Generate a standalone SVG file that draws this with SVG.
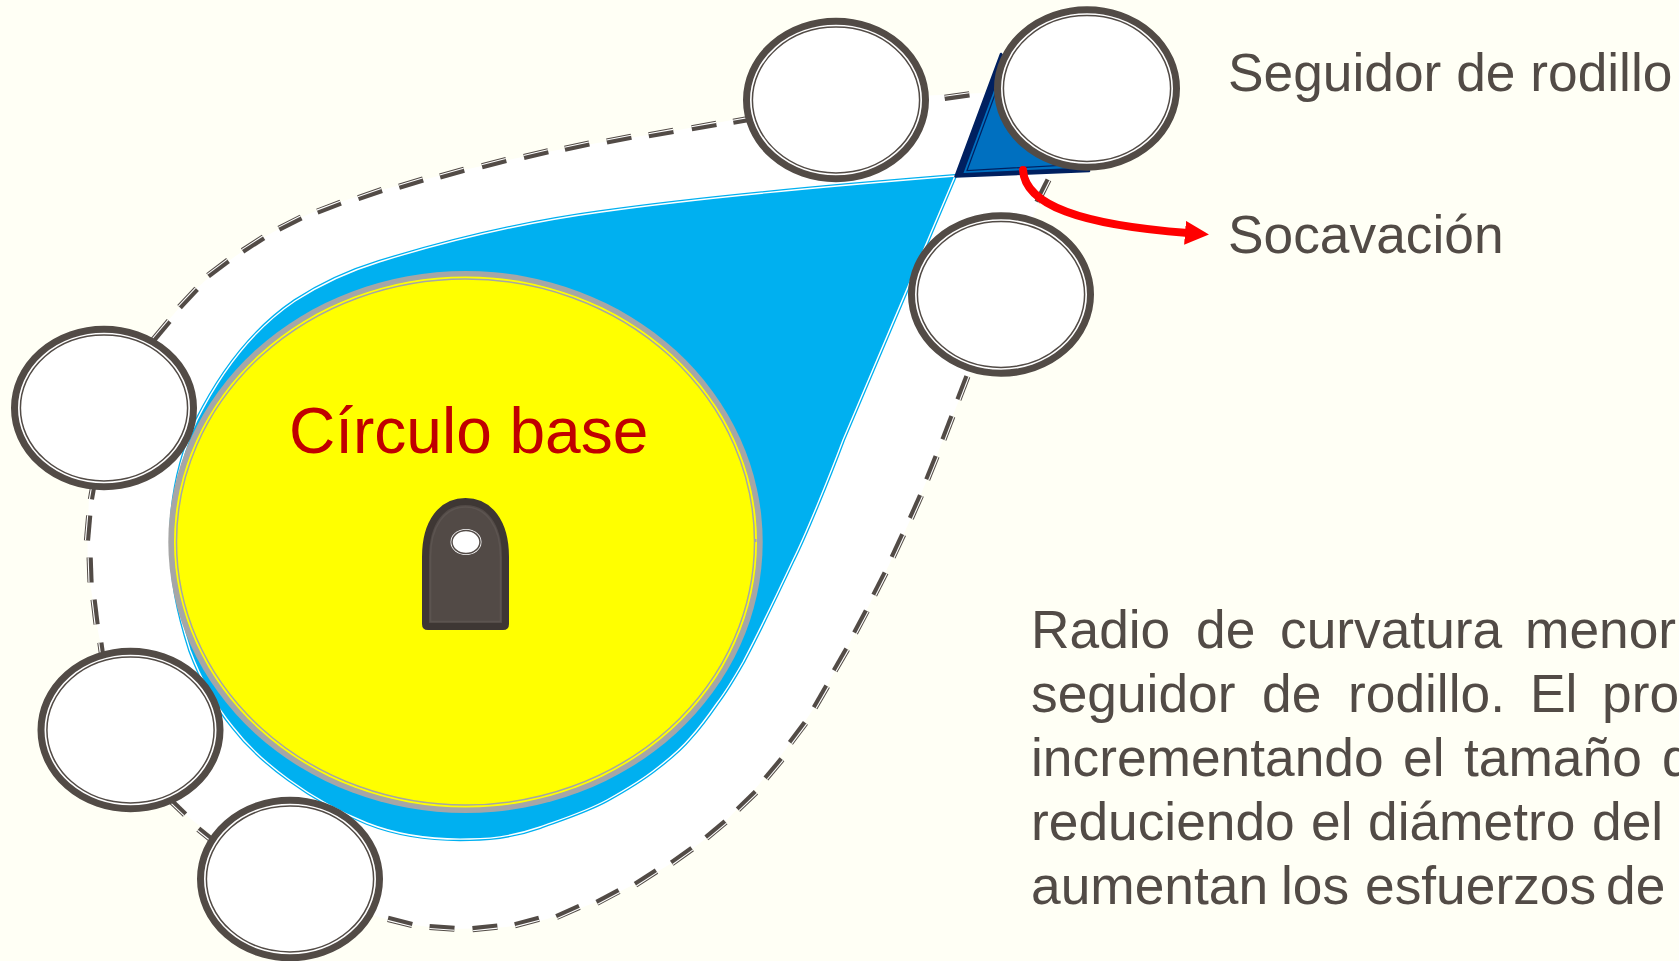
<svg xmlns="http://www.w3.org/2000/svg" width="1679" height="961" viewBox="0 0 1679 961">
<style>
.t{font-family:"Liberation Sans",Arial,sans-serif;font-size:53.3px;fill:#524B46}
.rim{fill:#fff;stroke:#524B46;stroke-width:7}
.in{fill:#fff;stroke:#524B46;stroke-width:1.5}
</style>
<defs>
<g id="d"><rect x="-12.5" y="-3" width="25" height="6.2" fill="#524B46"/><rect x="-12.5" y="-2" width="25" height="1.1" fill="#fff"/></g>
<g id="roller"><ellipse class="rim" rx="89.5" ry="78.8"/><ellipse class="in" rx="83.6" ry="72.9"/></g>
<marker id="head" markerUnits="userSpaceOnUse" markerWidth="26" markerHeight="26" refX="3" refY="12" orient="auto"><path d="M0,0L24,12L0,24Z" fill="#f00"/></marker>
<path id="camline" d="M955,176C830,186 700,198 601,212C520,223 450,240 379,262C340,274 315,288 295,301C255,328 222,370 197,420C182,452 172,490 171,535C171,580 178,612 190,650C200,677 215,705 233,727C260,762 310,800 367,823C400,836 435,840 470,839C495,839 520,834 540,827C565,818 587,811 607,800C625,790 642,780 657,768C670,758 680,750 690,738C700,727 708,716 717,703C727,690 735,676 743,662C760,630 778,592 793,560C805,536 828,480 843,440C875,365 920,258 955,176Z"/>
</defs>
<rect width="1679" height="961" fill="#FFFFF5"/>
<path id="pitch" fill="#fff" d="M104,408C130,365 155,335 188,298C215,268 250,244 290,223C325,205 365,193 411,183C452,172 495,163 536,154C578,146 620,139 661,133C720,123 780,110 836,100L1087,88C1075,120 1058,155 1043,191C1030,225 1015,260 1001,294C975,360 948,428 916,507C890,565 860,625 821,697C790,745 755,795 716,830C685,857 650,878 608,897C570,913 530,928 485,928C455,930 425,928 400,922C360,914 325,898 290,879C250,860 215,840 180,810C150,780 140,755 130,730C110,680 100,650 95,612C90,585 86,560 88,528C89,490 90,445 104,408Z"/>
<g id="connectors">
<use href="#d" transform="translate(161,330.6) rotate(-50)"/>
<use href="#d" transform="translate(188,298) rotate(-47)"/>
<use href="#d" transform="translate(218,268) rotate(-37)"/>
<use href="#d" transform="translate(253,244) rotate(-33)"/>
<use href="#d" transform="translate(290,223) rotate(-27)"/>
<use href="#d" transform="translate(329,207) rotate(-21)"/>
<use href="#d" transform="translate(370,194) rotate(-19)"/>
<use href="#d" transform="translate(411,183) rotate(-17)"/>
<use href="#d" transform="translate(452,173) rotate(-15.5)"/>
<use href="#d" transform="translate(494,163) rotate(-14.5)"/>
<use href="#d" transform="translate(536,154) rotate(-13.5)"/>
<use href="#d" transform="translate(577,146) rotate(-12)"/>
<use href="#d" transform="translate(619,139) rotate(-11)"/>
<use href="#d" transform="translate(661,133) rotate(-10)"/>
<use href="#d" transform="translate(704,126) rotate(-10)"/>
<use href="#d" transform="translate(745.500,119.500) rotate(-10)"/>
<use href="#d" transform="translate(957,96) rotate(-8)"/>
<use href="#d" transform="translate(1043,191) rotate(116.6)"/>
<use href="#d" transform="translate(963,388) rotate(111)"/>
<use href="#d" transform="translate(948,428) rotate(111)"/>
<use href="#d" transform="translate(932,468) rotate(112)"/>
<use href="#d" transform="translate(916,507) rotate(114)"/>
<use href="#d" transform="translate(898,546) rotate(115)"/>
<use href="#d" transform="translate(880,584) rotate(117)"/>
<use href="#d" transform="translate(861,622) rotate(118)"/>
<use href="#d" transform="translate(841,660) rotate(120)"/>
<use href="#d" transform="translate(821,697) rotate(120)"/>
<use href="#d" transform="translate(798,733) rotate(127)"/>
<use href="#d" transform="translate(774,769) rotate(130)"/>
<use href="#d" transform="translate(747,801) rotate(136)"/>
<use href="#d" transform="translate(716,830) rotate(140)"/>
<use href="#d" transform="translate(682,856) rotate(144.5)"/>
<use href="#d" transform="translate(646,878) rotate(147)"/>
<use href="#d" transform="translate(608,897) rotate(152)"/>
<use href="#d" transform="translate(568,912) rotate(156)"/>
<use href="#d" transform="translate(527,922) rotate(165)"/>
<use href="#d" transform="translate(485,928) rotate(174)"/>
<use href="#d" transform="translate(442,928) rotate(184)"/>
<use href="#d" transform="translate(400,922) rotate(194)"/>
<use href="#d" transform="translate(208,837) rotate(219)"/>
<use href="#d" transform="translate(176,806) rotate(224)"/>
<use href="#d" transform="translate(102,655) rotate(-98)"/>
<use href="#d" transform="translate(95,612) rotate(-97)"/>
<use href="#d" transform="translate(90,570) rotate(-92)"/>
<use href="#d" transform="translate(88,528) rotate(-85)"/>
<use href="#d" transform="translate(93,487) rotate(-80)"/>
</g>
<g id="cam">
<use href="#camline" fill="#00B0F0" stroke="#00B0F0" stroke-width="4"/>
<use href="#camline" fill="none" stroke="#fff" stroke-width="1.4"/>
</g>
<g id="undercut">
<path d="M955.500,176.500L1001,54L1089,171Z" fill="#002060" stroke="#002060" stroke-width="2.500" stroke-linejoin="round"/>
<path d="M963.500,173L1003,66L1085,167.500Z" fill="#0070C0"/>
<path d="M967,170.500L1004,70L1076,164.500Z" fill="#0070C0" stroke="#002060" stroke-width="1.200"/>
</g>
<g id="base-circle">
<ellipse cx="465.5" cy="542" rx="297.2" ry="271" fill="#A6A6A6"/>
<ellipse cx="465.5" cy="542" rx="291.5" ry="265.5" fill="#FF0"/>
<ellipse cx="465.5" cy="542" rx="289" ry="263" fill="#FF0" stroke="#A6A6A6" stroke-width="1.5"/>
<rect x="754" y="539" width="2.5" height="3" fill="#A6A6A6"/>
<text x="289" y="452.500" font-family="'Liberation Sans',Arial,sans-serif" font-size="64" fill="#C00000">Círculo base</text>
</g>
<g id="hub">
<path d="M425.5,557C425.5,522 442,501.5 465.5,501.5C489,501.5 505.5,522 505.5,557L505.5,624Q505.5,626.500 503,626.500L428,626.500Q425.5,626.500 425.5,624Z" fill="#524A46" stroke="#3E3734" stroke-width="7"/>
<path d="M430.500,557C430.500,526 445,507 465.500,507C486,507 500.500,526 500.500,557L500.500,621.500L430.500,621.500Z" fill="none" stroke="#5C5450" stroke-width="1.6"/>
<ellipse cx="466" cy="542" rx="15.500" ry="13" fill="#fff"/>
<ellipse cx="466" cy="542" rx="14" ry="11.500" fill="#fff" stroke="#524A46" stroke-width="1.5"/>
</g>
<use id="roller-1" href="#roller" x="1087" y="88.500"/>
<use id="roller-2" href="#roller" x="836" y="100"/>
<use id="roller-3" href="#roller" x="1001" y="294.500"/>
<use id="roller-4" href="#roller" x="104" y="408"/>
<use id="roller-5" href="#roller" x="130.500" y="730"/>
<use id="roller-6" href="#roller" x="290" y="879"/>
<g id="arrow"><path d="M1023,170C1025,205 1080,225 1188,233" fill="none" stroke="#f00" stroke-width="8" stroke-linecap="round" marker-end="url(#head)"/></g>
<g id="labels">
<text class="t" x="1228" y="91">Seguidor de rodillo</text>
<text class="t" x="1228" y="253">Socavación</text>
<text class="t"><tspan x="1031" y="648">Radio </tspan><tspan x="1196" y="648">de </tspan><tspan x="1280" y="648">curvatura </tspan><tspan x="1525" y="648">menor</tspan></text>
<text class="t"><tspan x="1031" y="712">seguidor </tspan><tspan x="1262" y="712">de </tspan><tspan x="1348" y="712">rodillo. </tspan><tspan x="1530" y="712">El </tspan><tspan x="1602" y="712">pro</tspan></text>
<text class="t"><tspan x="1031" y="776">incrementando </tspan><tspan x="1403" y="776">el </tspan><tspan x="1464" y="776">tamaño </tspan><tspan x="1662" y="776">d</tspan></text>
<text class="t"><tspan x="1031" y="840">reduciendo </tspan><tspan x="1311" y="840">el </tspan><tspan x="1368" y="840">diámetro </tspan><tspan x="1592" y="840">del</tspan></text>
<text class="t"><tspan x="1031" y="904">aumentan </tspan><tspan x="1281" y="904">los </tspan><tspan x="1365" y="904">esfuerzos </tspan><tspan x="1606" y="904">de</tspan></text>
</g>
</svg>
